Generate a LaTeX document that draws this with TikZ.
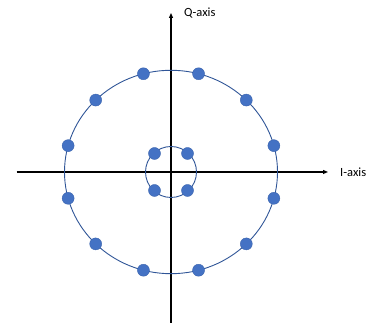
\documentclass[tikz,border=0pt]{standalone}
\usepackage{fontspec}
\setmainfont{Carlito}
\usetikzlibrary{arrows.meta,calc}
\definecolor{ringblue}{HTML}{2F5597}
\definecolor{dotblue}{HTML}{4472C4}
\definecolor{dotedge}{HTML}{3A63AD}
\begin{document}
\begin{tikzpicture}[x=1pt,y=1pt,
  axis/.style={black,line width=1.1pt,-{Triangle[length=5pt,width=4pt]}},
  ring/.style={ringblue,line width=0.9pt},
  pt/.style={circle,fill=dotblue,draw=dotedge,line width=0.4pt,minimum size=12pt,inner sep=0pt},
  lbl/.style={font=\fontsize{12.5}{14}\selectfont,anchor=west,inner sep=0pt}]
\useasboundingbox (0,0) rectangle (378,323);
\coordinate (O) at (171,151);
\coordinate (xs) at (16.7,151);
\coordinate (xe) at (328,151);
\coordinate (ys) at (171,0);
\coordinate (ye) at (171,310);
\draw[axis] (xs) -- (xe);
\draw[axis] (ys) -- (ye);
\node[lbl] (ql) at (184,310) {Q-axis};
\node[lbl] (il) at (340,150.3) {I-axis};
\draw[ring] (O) ellipse [x radius=106.5, y radius=101.7];
\draw[ring] (O) circle [radius=25.5];
\foreach \a in {15,45,75,105,135,165,195,225,255,285,315,345}{
  \node[pt] (o\a) at ($(O)+({106.5*cos(\a)},{101.7*sin(\a)})$) {};
}
\node[pt] (i1) at (187.5,169.5) {};
\node[pt] (i2) at (154.5,169.5) {};
\node[pt] (i3) at (154.5,132.5) {};
\node[pt] (i4) at (187.5,132.5) {};
\end{tikzpicture}
\end{document}
